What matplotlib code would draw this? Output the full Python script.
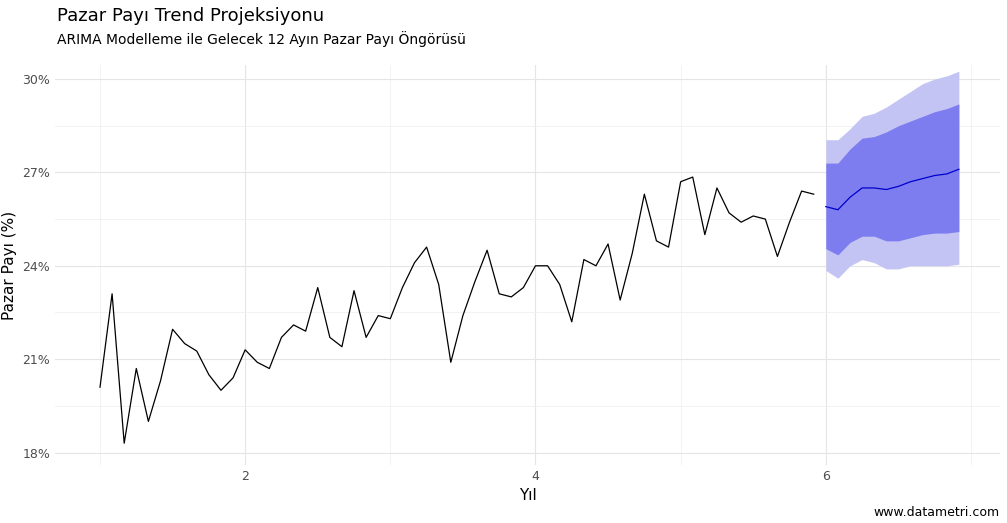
import numpy as np
import matplotlib.pyplot as plt
from matplotlib.ticker import FuncFormatter, MultipleLocator

# historical monthly share (%), starting at year 1
hist = [20.1, 23.1, 18.3, 20.7, 19.0, 20.3, 21.96, 21.5, 21.26, 20.5, 20.0, 20.4,
        21.3, 20.9, 20.7, 21.7, 22.1, 21.9, 23.3, 21.7, 21.4, 23.2, 21.7, 22.4,
        22.3, 23.3, 24.1, 24.6, 23.4, 20.9, 22.4, 23.5, 24.5, 23.1, 23.0, 23.3,
        24.0, 24.0, 23.4, 22.2, 24.2, 24.0, 24.7, 22.9, 24.4, 26.3, 24.8, 24.6,
        26.7, 26.85, 25.0, 26.5, 25.7, 25.4, 25.6, 25.5, 24.3, 25.4, 26.4, 26.3]
fc_mean = [25.9, 25.8, 26.2, 26.5, 26.5, 26.45, 26.55, 26.7, 26.8, 26.9, 26.95, 27.1]
lo80 = [24.55, 24.35, 24.75, 24.95, 24.95, 24.8, 24.8, 24.9, 25.0, 25.05, 25.05, 25.1]
hi80 = [27.3, 27.3, 27.75, 28.1, 28.15, 28.3, 28.5, 28.65, 28.8, 28.95, 29.05, 29.2]
lo95 = [23.85, 23.6, 24.0, 24.2, 24.1, 23.9, 23.9, 24.0, 24.0, 24.0, 24.0, 24.05]
hi95 = [28.05, 28.05, 28.4, 28.8, 28.9, 29.1, 29.35, 29.6, 29.85, 30.0, 30.1, 30.25]

x_hist = 1 + np.arange(len(hist)) / 12
x_fc = 6 + np.arange(len(fc_mean)) / 12

fig = plt.figure(figsize=(10.07, 5.23), dpi=100)
ax = fig.add_axes([55 / 1007, 1 - 465 / 523, 945 / 1007, 400 / 523])
ax.set_axisbelow(True)

ax.fill_between(x_fc, lo95, hi95, color="#c4c4f4", lw=0)
ax.fill_between(x_fc, lo80, hi80, color="#7d7df0", lw=0)
ax.plot(x_hist, hist, color="black", lw=0.9)
ax.plot(x_fc, fc_mean, color="#0000cc", lw=0.9)

ax.set_xlim(0.69, 7.2)
ax.set_ylim(17.6, 30.45)
ax.set_xticks([2, 4, 6])
ax.xaxis.set_minor_locator(MultipleLocator(1))
ax.set_yticks([18, 21, 24, 27, 30])
ax.yaxis.set_minor_locator(MultipleLocator(1.5))
ax.yaxis.set_major_formatter(FuncFormatter(lambda v, p: f"{v:.0f}%"))
ax.grid(which="major", color="#e5e5e5", lw=0.8)
ax.grid(which="minor", color="#f0f0f0", lw=0.6)
ax.tick_params(which="both", length=0, colors="#4d4d4d", labelsize=9)
for s in ax.spines.values():
    s.set_visible(False)

ax.set_xlabel("Yıl", fontsize=11)
ax.set_ylabel("Pazar Payı (%)", fontsize=11)
fig.text(57 / 1007, 1 - 16 / 523, "Pazar Payı Trend Projeksiyonu", fontsize=13, va="center")
fig.text(57 / 1007, 1 - 39 / 523, "ARIMA Modelleme ile Gelecek 12 Ayın Pazar Payı Öngörüsü", fontsize=10, va="center")
fig.text(1000 / 1007, 1 - 512 / 523, "www.datametri.com", fontsize=9, ha="right", va="center")

fig.savefig("out.png", dpi=100)
